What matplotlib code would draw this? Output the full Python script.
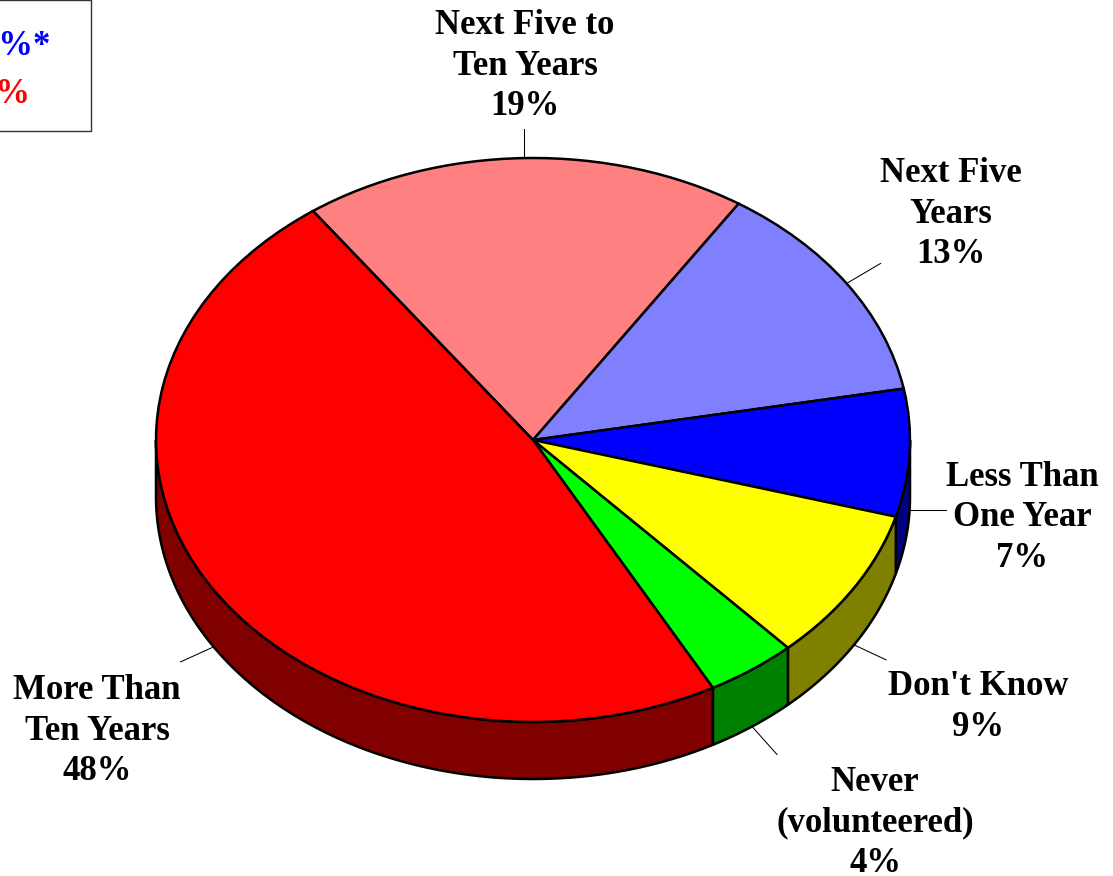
#!/usr/bin/env python3
# coding: utf-8

"""
Tilted pie chart, how soon people expect it to happen
"""

import matplotlib
matplotlib.use("Agg")
import matplotlib.pyplot as plt
from matplotlib.patches import Rectangle
import numpy as np

W, H = 1113, 876
CX, CY = 533, 440    # pie centre in pixels
RX, RY = 377, 282    # pie radii in pixels
DEPTH = 57
START = -35.7        # clockwise from the top, where the first slice starts

names = ["Next Five to\nTen Years", "Next Five\nYears", "Less Than\nOne Year",
         "Don't Know", "Never\n(volunteered)", "More Than\nTen Years"]
# slices are a bit off the printed whole numbers
values = [19.1, 12.9, 7.3, 8.8, 3.9, 48.0]
top_colors = ["#ff8080", "#8080ff", "#0000ff", "#ffff00", "#00ff00", "#ff0000"]
side_colors = ["#800000", "#000080", "#000080", "#808000", "#008000", "#800000"]

label_x = [525, 951, 1022, 978, 875, 97]
label_y = [66, 214, 518, 707, 823, 731]
leader_dx = [0, 34, 36, 32, 25, -33]
leader_dy = [-29, -20, 0, 15, 28, 15]

legend_blue = "0%*"
legend_red = "0%"


def px(x):
    return (x - CX) / RX


def py(y):
    return (CY - y) / RY


def draw_side(ax, a0, a1, color):
    # only the front part of the rim can be seen
    a0 = max(a0, 90)
    a1 = min(a1, 270)
    if a1 <= a0:
        return
    t = np.radians(np.linspace(a0, a1, 120))
    x = np.sin(t)
    y = np.cos(t)
    d = DEPTH / RY
    ax.fill(np.r_[x, x[::-1]], np.r_[y, y[::-1] - d], facecolor=color,
            edgecolor="black", linewidth=1.8, joinstyle="round", zorder=1)


def main():
    fig = plt.figure(figsize=(W / 100, H / 100), dpi=100)
    ax = fig.add_axes([0, 0, 1, 1])

    ax.pie(values, colors=top_colors, startangle=90 - START, counterclock=False,
           radius=1, wedgeprops={"edgecolor": "black", "linewidth": 1.8, "zorder": 2})
    ax.set_aspect("auto")
    ax.set_xlim(px(0), px(W))
    ax.set_ylim(py(H), py(0))

    font = {"family": "Liberation Serif", "weight": "bold", "size": 25}

    edges = START + np.cumsum([0] + values) * 3.6
    for i in range(len(values)):
        a0, a1 = edges[i], edges[i + 1]
        draw_side(ax, a0, a1, side_colors[i])

        mid = np.radians((a0 + a1) / 2)
        lx = CX + RX * np.sin(mid)
        ly = CY - RY * np.cos(mid)
        if np.cos(mid) < 0 or i == 2:
            ly += DEPTH
        ax.plot([px(lx), px(lx + leader_dx[i])], [py(ly), py(ly + leader_dy[i])],
                color="black", linewidth=0.75, zorder=0)

        ax.text(px(label_x[i]), py(label_y[i]), f"{names[i]}\n{round(values[i])}%",
                ha="center", va="center", multialignment="center",
                linespacing=1.3, zorder=3, **font)

    ax.add_patch(Rectangle((px(-20), py(131)), px(91) - px(-20), py(0) - py(131),
                           facecolor="white", edgecolor="#333333", linewidth=1,
                           zorder=3))
    ax.text(px(51), py(46), legend_blue, color="#0000ff", ha="right", va="center",
            zorder=4, **font)
    ax.text(px(31), py(94), legend_red, color="#ff0000", ha="right", va="center",
            zorder=4, **font)

    fig.savefig("out.png", dpi=100, facecolor="white")


if __name__ == '__main__':
    main()
